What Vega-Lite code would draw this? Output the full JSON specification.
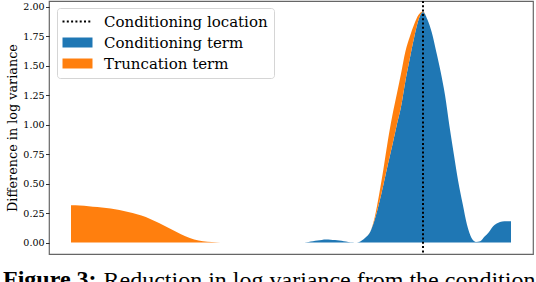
{
  "$schema": "https://vega.github.io/schema/vega-lite/v6.json",
  "width": 484,
  "height": 253,
  "autosize": {"type": "none"},
  "padding": {"left": 49, "top": 1, "right": 3, "bottom": 28},
  "background": "white",
  "config": {"view": {"stroke": "#666666", "strokeWidth": 1.2}},
  "title": {"text": "Figure 3:", "orient": "bottom", "anchor": "start", "frame": "group", "dx": -46, "offset": -5, "font": "Liberation Serif", "fontSize": 24, "fontWeight": "bold", "color": "black", "baseline": "alphabetic"},
  "layer": [
    {
      "data": {"values": [
        {"t": 0, "term": "Conditioning term", "v": 0}, {"t": 0, "term": "Truncation term", "v": 0.316},
        {"t": 2, "term": "Conditioning term", "v": 0}, {"t": 2, "term": "Truncation term", "v": 0.314},
        {"t": 4, "term": "Conditioning term", "v": 0}, {"t": 4, "term": "Truncation term", "v": 0.308},
        {"t": 6, "term": "Conditioning term", "v": 0}, {"t": 6, "term": "Truncation term", "v": 0.301},
        {"t": 8, "term": "Conditioning term", "v": 0}, {"t": 8, "term": "Truncation term", "v": 0.292},
        {"t": 10, "term": "Conditioning term", "v": 0}, {"t": 10, "term": "Truncation term", "v": 0.281},
        {"t": 12, "term": "Conditioning term", "v": 0}, {"t": 12, "term": "Truncation term", "v": 0.267},
        {"t": 14, "term": "Conditioning term", "v": 0}, {"t": 14, "term": "Truncation term", "v": 0.25},
        {"t": 16, "term": "Conditioning term", "v": 0}, {"t": 16, "term": "Truncation term", "v": 0.229},
        {"t": 18, "term": "Conditioning term", "v": 0}, {"t": 18, "term": "Truncation term", "v": 0.2},
        {"t": 20, "term": "Conditioning term", "v": 0}, {"t": 20, "term": "Truncation term", "v": 0.166},
        {"t": 22, "term": "Conditioning term", "v": 0}, {"t": 22, "term": "Truncation term", "v": 0.128},
        {"t": 24, "term": "Conditioning term", "v": 0}, {"t": 24, "term": "Truncation term", "v": 0.09},
        {"t": 26, "term": "Conditioning term", "v": 0}, {"t": 26, "term": "Truncation term", "v": 0.052},
        {"t": 28, "term": "Conditioning term", "v": 0}, {"t": 28, "term": "Truncation term", "v": 0.026},
        {"t": 30, "term": "Conditioning term", "v": 0}, {"t": 30, "term": "Truncation term", "v": 0.011},
        {"t": 32, "term": "Conditioning term", "v": 0}, {"t": 32, "term": "Truncation term", "v": 0.004},
        {"t": 34, "term": "Conditioning term", "v": 0}, {"t": 34, "term": "Truncation term", "v": 0.001},
        {"t": 36, "term": "Conditioning term", "v": 0}, {"t": 36, "term": "Truncation term", "v": 0},
        {"t": 40, "term": "Conditioning term", "v": 0}, {"t": 40, "term": "Truncation term", "v": 0},
        {"t": 44, "term": "Conditioning term", "v": 0}, {"t": 44, "term": "Truncation term", "v": 0},
        {"t": 48, "term": "Conditioning term", "v": 0}, {"t": 48, "term": "Truncation term", "v": 0},
        {"t": 52, "term": "Conditioning term", "v": 0}, {"t": 52, "term": "Truncation term", "v": 0},
        {"t": 53, "term": "Conditioning term", "v": 0.001}, {"t": 53, "term": "Truncation term", "v": 0},
        {"t": 54, "term": "Conditioning term", "v": 0.005}, {"t": 54, "term": "Truncation term", "v": 0},
        {"t": 55, "term": "Conditioning term", "v": 0.011}, {"t": 55, "term": "Truncation term", "v": 0},
        {"t": 56, "term": "Conditioning term", "v": 0.017}, {"t": 56, "term": "Truncation term", "v": 0},
        {"t": 57, "term": "Conditioning term", "v": 0.022}, {"t": 57, "term": "Truncation term", "v": 0},
        {"t": 58, "term": "Conditioning term", "v": 0.025}, {"t": 58, "term": "Truncation term", "v": 0},
        {"t": 59, "term": "Conditioning term", "v": 0.024}, {"t": 59, "term": "Truncation term", "v": 0},
        {"t": 60, "term": "Conditioning term", "v": 0.021}, {"t": 60, "term": "Truncation term", "v": 0},
        {"t": 61, "term": "Conditioning term", "v": 0.016}, {"t": 61, "term": "Truncation term", "v": 0},
        {"t": 62, "term": "Conditioning term", "v": 0.01}, {"t": 62, "term": "Truncation term", "v": 0},
        {"t": 63, "term": "Conditioning term", "v": 0.005}, {"t": 63, "term": "Truncation term", "v": 0},
        {"t": 64, "term": "Conditioning term", "v": 0.002}, {"t": 64, "term": "Truncation term", "v": 0},
        {"t": 65, "term": "Conditioning term", "v": 0}, {"t": 65, "term": "Truncation term", "v": 0},
        {"t": 66, "term": "Conditioning term", "v": 0.015}, {"t": 66, "term": "Truncation term", "v": 0},
        {"t": 67, "term": "Conditioning term", "v": 0.045}, {"t": 67, "term": "Truncation term", "v": 0},
        {"t": 68, "term": "Conditioning term", "v": 0.09}, {"t": 68, "term": "Truncation term", "v": 0},
        {"t": 69, "term": "Conditioning term", "v": 0.19}, {"t": 69, "term": "Truncation term", "v": 0.02},
        {"t": 70, "term": "Conditioning term", "v": 0.33}, {"t": 70, "term": "Truncation term", "v": 0.07},
        {"t": 71, "term": "Conditioning term", "v": 0.49}, {"t": 71, "term": "Truncation term", "v": 0.13},
        {"t": 72, "term": "Conditioning term", "v": 0.66}, {"t": 72, "term": "Truncation term", "v": 0.2},
        {"t": 73, "term": "Conditioning term", "v": 0.82}, {"t": 73, "term": "Truncation term", "v": 0.25},
        {"t": 74, "term": "Conditioning term", "v": 0.99}, {"t": 74, "term": "Truncation term", "v": 0.26},
        {"t": 75, "term": "Conditioning term", "v": 1.15}, {"t": 75, "term": "Truncation term", "v": 0.28},
        {"t": 76, "term": "Conditioning term", "v": 1.37}, {"t": 76, "term": "Truncation term", "v": 0.25},
        {"t": 77, "term": "Conditioning term", "v": 1.56}, {"t": 77, "term": "Truncation term", "v": 0.185},
        {"t": 78, "term": "Conditioning term", "v": 1.74}, {"t": 78, "term": "Truncation term", "v": 0.11},
        {"t": 79, "term": "Conditioning term", "v": 1.89}, {"t": 79, "term": "Truncation term", "v": 0.04},
        {"t": 80, "term": "Conditioning term", "v": 1.955}, {"t": 80, "term": "Truncation term", "v": 0.003},
        {"t": 81, "term": "Conditioning term", "v": 1.89}, {"t": 81, "term": "Truncation term", "v": 0},
        {"t": 82, "term": "Conditioning term", "v": 1.78}, {"t": 82, "term": "Truncation term", "v": 0},
        {"t": 83, "term": "Conditioning term", "v": 1.62}, {"t": 83, "term": "Truncation term", "v": 0},
        {"t": 84, "term": "Conditioning term", "v": 1.45}, {"t": 84, "term": "Truncation term", "v": 0},
        {"t": 85, "term": "Conditioning term", "v": 1.25}, {"t": 85, "term": "Truncation term", "v": 0},
        {"t": 86, "term": "Conditioning term", "v": 0.99}, {"t": 86, "term": "Truncation term", "v": 0},
        {"t": 87, "term": "Conditioning term", "v": 0.75}, {"t": 87, "term": "Truncation term", "v": 0},
        {"t": 88, "term": "Conditioning term", "v": 0.52}, {"t": 88, "term": "Truncation term", "v": 0},
        {"t": 89, "term": "Conditioning term", "v": 0.33}, {"t": 89, "term": "Truncation term", "v": 0},
        {"t": 90, "term": "Conditioning term", "v": 0.15}, {"t": 90, "term": "Truncation term", "v": 0},
        {"t": 91, "term": "Conditioning term", "v": 0.04}, {"t": 91, "term": "Truncation term", "v": 0},
        {"t": 92, "term": "Conditioning term", "v": 0.005}, {"t": 92, "term": "Truncation term", "v": 0},
        {"t": 93, "term": "Conditioning term", "v": 0.01}, {"t": 93, "term": "Truncation term", "v": 0},
        {"t": 94, "term": "Conditioning term", "v": 0.05}, {"t": 94, "term": "Truncation term", "v": 0},
        {"t": 95, "term": "Conditioning term", "v": 0.09}, {"t": 95, "term": "Truncation term", "v": 0},
        {"t": 96, "term": "Conditioning term", "v": 0.14}, {"t": 96, "term": "Truncation term", "v": 0},
        {"t": 97, "term": "Conditioning term", "v": 0.165}, {"t": 97, "term": "Truncation term", "v": 0},
        {"t": 98, "term": "Conditioning term", "v": 0.177}, {"t": 98, "term": "Truncation term", "v": 0},
        {"t": 99, "term": "Conditioning term", "v": 0.18}, {"t": 99, "term": "Truncation term", "v": 0},
        {"t": 100, "term": "Conditioning term", "v": 0.18}, {"t": 100, "term": "Truncation term", "v": 0}
      ]},
      "mark": {"type": "area", "interpolate": "monotone", "opacity": 1},
      "encoding": {
        "x": {"field": "t", "type": "quantitative",
          "scale": {"domain": [-5, 105], "nice": false, "zero": false},
          "axis": {"title": "Reduction in log variance from the conditioning", "labels": false, "ticks": false, "domain": false, "grid": false,
            "titleFont": "Liberation Serif", "titleFontSize": 24, "titleFontWeight": "normal", "titleColor": "black",
            "titleX": 54, "titleY": 33, "titleAlign": "left", "titleBaseline": "alphabetic", "titleAnchor": "start"}},
        "y": {"field": "v", "type": "quantitative", "stack": "zero",
          "scale": {"domain": [-0.0975, 2.0475], "nice": false, "zero": false},
          "axis": {"title": "Difference in log variance", "values": [0, 0.25, 0.5, 0.75, 1, 1.25, 1.5, 1.75, 2], "format": ".2f",
            "grid": false, "domain": false, "tickColor": "black", "tickSize": 3.5, "tickWidth": 0.8,
            "labelFont": "DejaVu Serif", "labelFontSize": 9.5, "labelColor": "black", "labelPadding": 1.5,
            "titleFont": "DejaVu Serif", "titleFontSize": 12.8, "titleFontWeight": "normal", "titleColor": "black", "titlePadding": 3}},
        "order": {"field": "term", "sort": "ascending"},
        "color": {"field": "term", "type": "nominal",
          "scale": {"domain": ["Conditioning location", "Conditioning term", "Truncation term"], "range": ["black", "#1f77b4", "#ff7f0e"]},
          "legend": {"orient": "none", "legendX": 8, "legendY": 7, "title": null,
            "labelFont": "DejaVu Serif", "labelFontSize": 15, "labelColor": "black", "labelLimit": 400,
            "symbolSize": 400, "symbolType": "M-1,-0.5H2V0.5H-1Z", "symbolStrokeWidth": 0, "symbolOffset": 2,
            "labelOffset": 24, "rowPadding": 5, "padding": 6,
            "fillColor": "rgba(255,255,255,0.8)", "strokeColor": "#d5d5d5", "cornerRadius": 3,
            "encoding": {"symbols": {
              "shape": {"value": {"expr": "datum.value === 'Conditioning location' ? 'M-1,0H2' : 'M-1,-0.5H2V0.5H-1Z'"}},
              "stroke": {"value": {"expr": "datum.value === 'Conditioning location' ? 'black' : 'transparent'"}},
              "strokeWidth": {"value": {"expr": "datum.value === 'Conditioning location' ? 2 : 0"}},
              "strokeDash": {"value": {"expr": "datum.value === 'Conditioning location' ? [2, 2.3] : [1, 0]"}},
              "fill": {"value": {"expr": "datum.value === 'Conditioning location' ? 'transparent' : (datum.value === 'Conditioning term' ? '#1f77b4' : '#ff7f0e')"}},
              "opacity": {"value": 1}
            }}}}
      }
    },
    {
      "data": {"values": [{"loc": 80}]},
      "mark": {"type": "rule", "strokeDash": [2, 2.3], "strokeWidth": 2},
      "encoding": {
        "x": {"field": "loc", "type": "quantitative"},
        "color": {"datum": "Conditioning location"}
      }
    }
  ]
}
